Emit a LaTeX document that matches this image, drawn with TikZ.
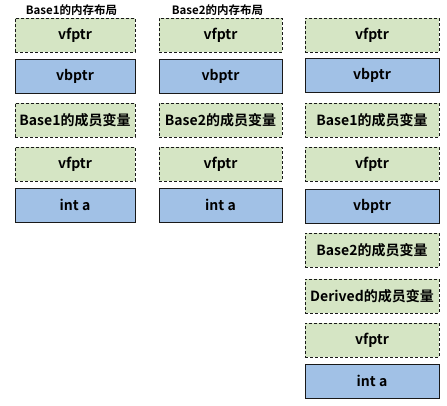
\documentclass[tikz,border=0pt]{standalone}
\usepackage{fontspec}
\setmainfont{Noto Sans CJK SC}[BoldFont={* Bold}]
\usepackage{tikz}
\usetikzlibrary{positioning}
\definecolor{mgreen}{HTML}{D5E5C4}
\definecolor{mblue}{HTML}{A1C1E6}
\tikzset{
  mcell/.style={draw=black!90, line width=0.8pt, minimum height=34pt,
                inner sep=0pt, font=\fontsize{14}{16}\selectfont\bfseries},
  mvirt/.style={mcell, fill=mgreen, dash pattern=on 3pt off 2pt},
  mreal/.style={mcell, fill=mblue},
  mtitle/.style={font=\fontsize{11.5}{13}\selectfont\bfseries},
}

\begin{document}
\begin{tikzpicture}[x=1pt,y=-1pt]
  \useasboundingbox (0,0) rectangle (447,405);

  % Base1 的内存布局
  \node[mtitle] (t1) at (71.5,10) {Base1的内存布局};
  \node[mvirt, minimum width=120pt] (a1) at (75,35)  {vfptr};
  \node[mreal, minimum width=120pt] (a2) at (75,76)  {vbptr};
  \node[mvirt, minimum width=120pt] (a3) at (75,120) {Base1的成员变量};
  \node[mvirt, minimum width=120pt] (a4) at (75,164) {vfptr};
  \node[mreal, minimum width=120pt] (a5) at (75,205) {int a};

  % Base2 的内存布局
  \node[mtitle] (t2) at (217.5,10) {Base2的内存布局};
  \node[mvirt, minimum width=123pt] (b1) at (220.5,35)  {vfptr};
  \node[mreal, minimum width=123pt] (b2) at (220.5,76)  {vbptr};
  \node[mvirt, minimum width=123pt] (b3) at (220.5,120) {Base2的成员变量};
  \node[mvirt, minimum width=123pt] (b4) at (220.5,164) {vfptr};
  \node[mreal, minimum width=123pt] (b5) at (220.5,205) {int a};

  % Derived 的内存布局
  \node[mvirt, minimum width=134pt] (c1) at (372,35)  {vfptr};
  \node[mreal, minimum width=134pt] (c2) at (372,75)  {vbptr};
  \node[mvirt, minimum width=134pt] (c3) at (372,120) {Base1的成员变量};
  \node[mvirt, minimum width=134pt] (c4) at (372,164) {vfptr};
  \node[mreal, minimum width=134pt] (c5) at (372,206) {vbptr};
  \node[mvirt, minimum width=134pt] (c6) at (372,250) {Base2的成员变量};
  \node[mvirt, minimum width=134pt] (c7) at (372,296) {Derived的成员变量};
  \node[mvirt, minimum width=134pt] (c8) at (372,340) {vfptr};
  \node[mreal, minimum width=134pt] (c9) at (372,381) {int a};

\end{tikzpicture}
\end{document}
